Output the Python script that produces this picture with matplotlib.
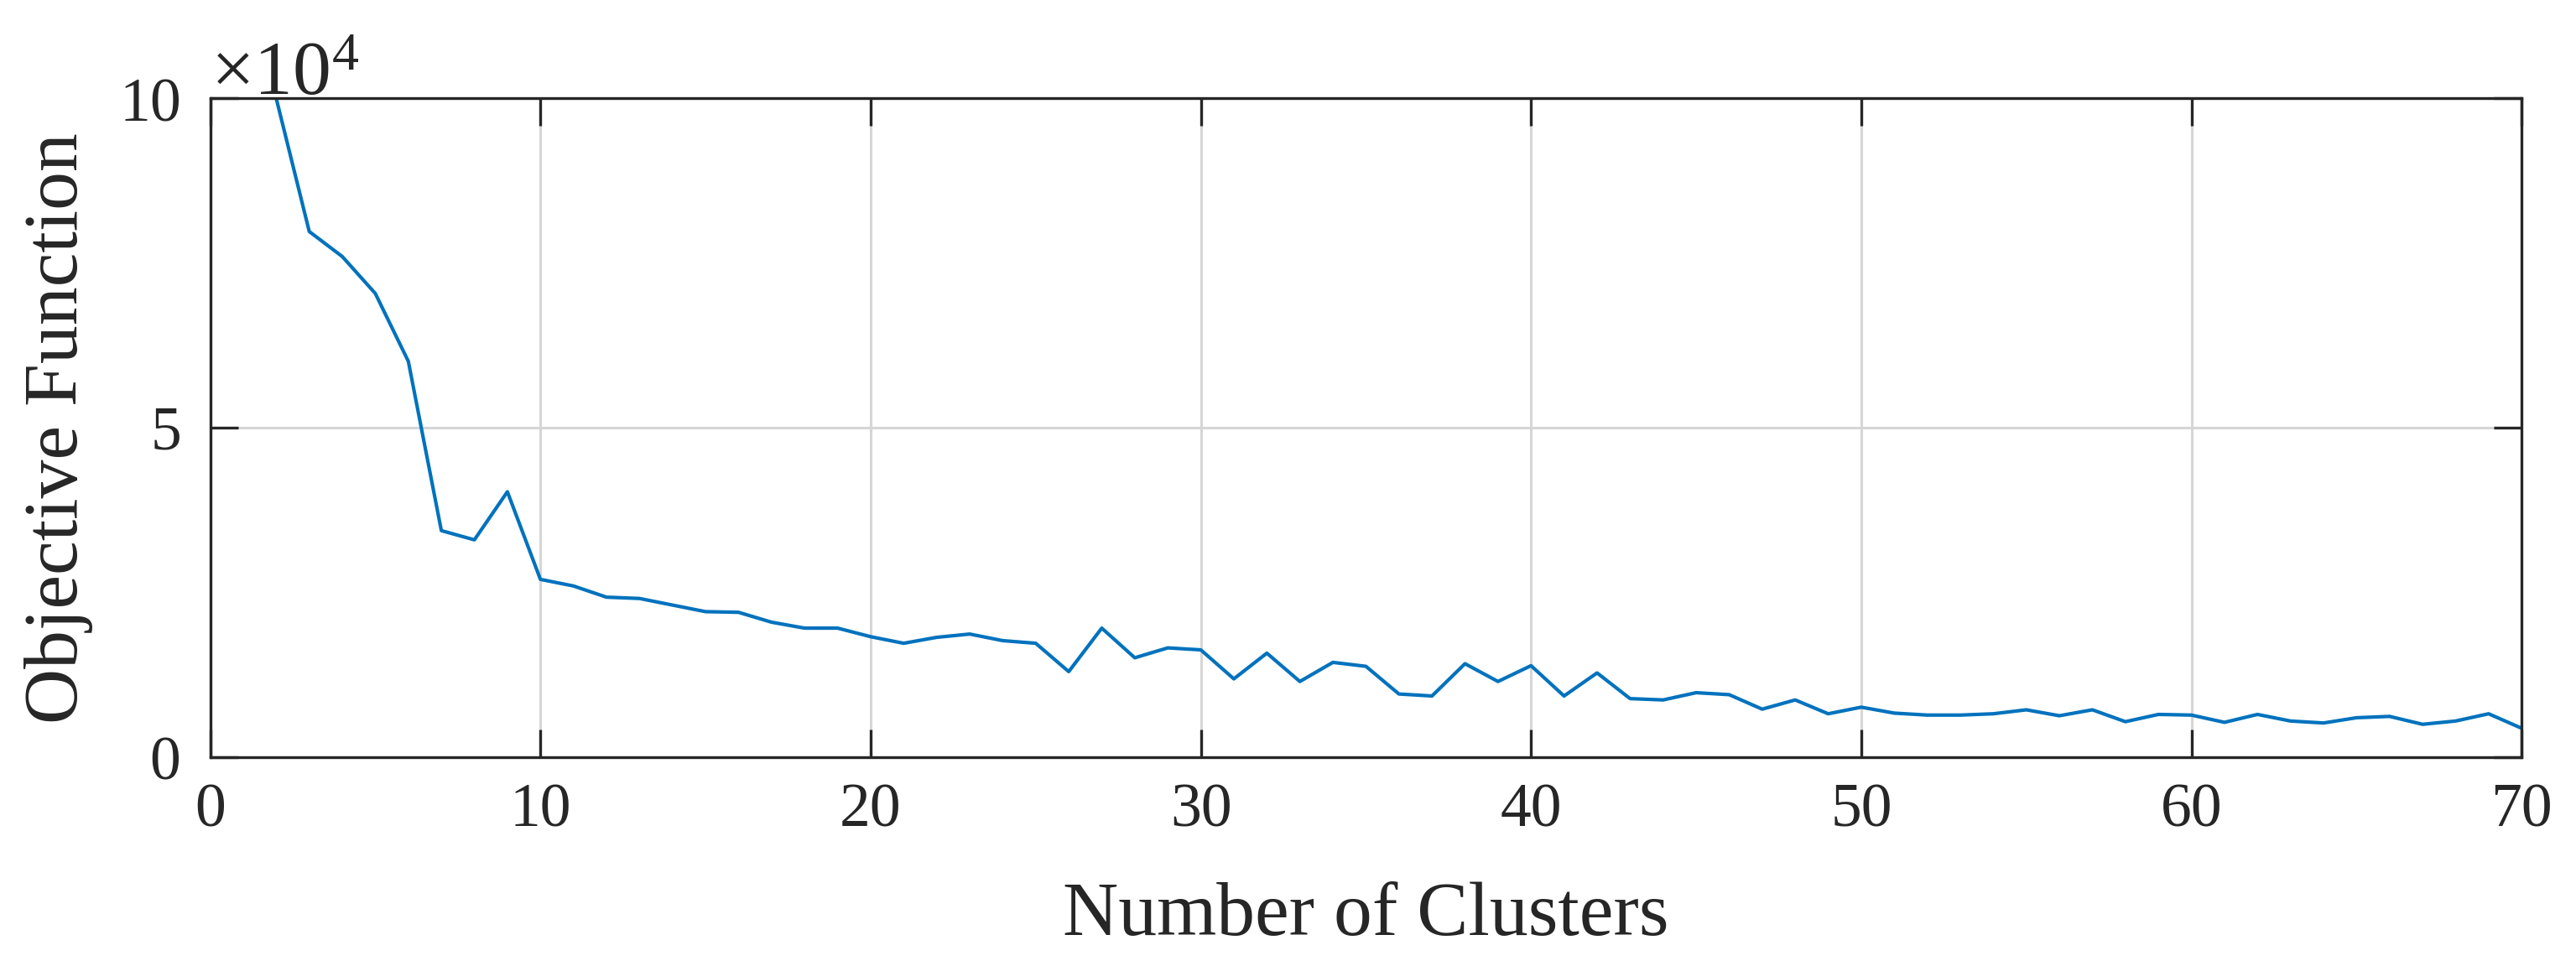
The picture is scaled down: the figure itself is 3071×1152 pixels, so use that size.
import numpy as np
import matplotlib
matplotlib.use("Agg")
import matplotlib.pyplot as plt
from matplotlib.ticker import ScalarFormatter

# number of clusters and objective value
clusters = np.arange(2, 71)
objective = np.array([
    100000, 79800, 76000, 70400, 60100, 34400, 33000, 40300, 27000, 26000,
    24300, 24100, 23100, 22100, 22000, 20500, 19600, 19600, 18300, 17300,
    18200, 18700, 17700, 17300, 13000, 19600, 15100, 16600, 16300, 11900,
    15800, 11500, 14400, 13800, 9600, 9300, 14200, 11500, 13900, 9300,
    12800, 8900, 8700, 9800, 9500, 7300, 8700, 6600, 7600, 6700,
    6400, 6400, 6600, 7200, 6300, 7200, 5400, 6500, 6400, 5300,
    6500, 5500, 5200, 6000, 6200, 5000, 5500, 6600, 4400])

x_ticks = [0, 10, 20, 30, 40, 50, 60, 70]
y_ticks = [0, 50000, 100000]

plt.rcParams['font.family'] = ['Liberation Serif', 'DejaVu Serif']
plt.rcParams['mathtext.fontset'] = 'custom'
plt.rcParams['mathtext.rm'] = 'Liberation Serif'
plt.rcParams['mathtext.it'] = 'Liberation Serif:italic'

txt = '#262626'

fig = plt.figure(figsize=(30.71, 11.52), dpi=100)
ax = fig.add_axes([0.0816, 0.2161, 0.8973, 0.682])

ax.plot(clusters, objective, color='#0072BD', linewidth=3.0)

ax.set_xlim(0, 70)
ax.set_ylim(0, 100000)
ax.set_xticks(x_ticks)
ax.set_yticks(y_ticks)

fmt = ScalarFormatter(useMathText=True)
fmt.set_powerlimits((4, 4))
ax.yaxis.set_major_formatter(fmt)

ax.grid(True, color='#d6d6d6', linewidth=2.2)
ax.set_axisbelow(True)
for s in ax.spines.values():
    s.set_linewidth(2.4)
    s.set_color(txt)

ax.tick_params(direction='in', length=24, width=2.4, colors=txt,
               labelsize=53, top=True, right=True)
ax.tick_params(axis='x', pad=22)
ax.tick_params(axis='y', pad=26)
ax.yaxis.get_offset_text().set_fontsize(66)
ax.yaxis.get_offset_text().set_color(txt)

ax.set_xlabel('Number of Clusters', fontsize=66, color=txt, labelpad=36)
ax.set_ylabel('Objective Function', fontsize=66, color=txt, labelpad=22)

fig.savefig('out.png', dpi=100)
